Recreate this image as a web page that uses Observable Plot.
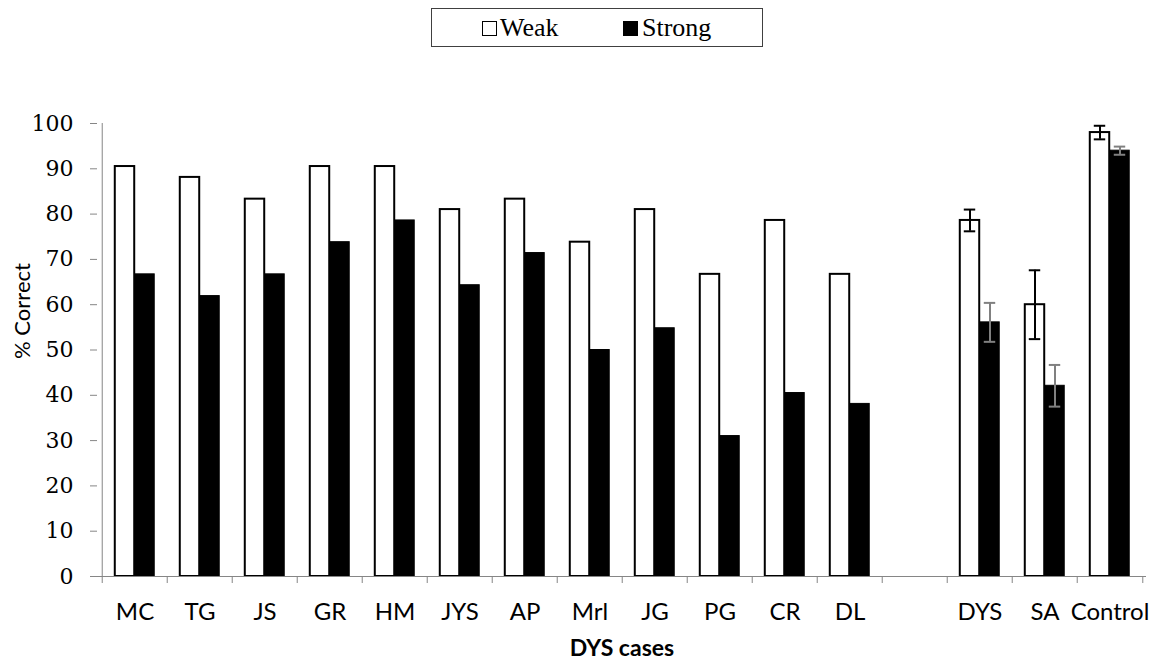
<!DOCTYPE html>
<html>
<head>
<meta charset="utf-8">
<script src="https://cdn.jsdelivr.net/npm/d3@7"></script>
<script src="https://cdn.jsdelivr.net/npm/@observablehq/plot@0.6"></script>
<style>
  body { margin: 0; background: #fff; }
  #legend { position: relative; height: 60px; font-family: "Liberation Serif", serif; font-size: 26px; color: #000; }
  #legend .box { position: absolute; left: 431px; top: 8px; width: 330px; height: 37px; border: 1px solid #404040; }
  #legend .sw { position: absolute; top: 21px; width: 15px; height: 15px; box-sizing: border-box; border: 1.5px solid #000; }
  #legend .lab { position: absolute; top: 15px; line-height: 26px; white-space: nowrap; }
  #chart svg { display: block; }
</style>
</head>
<body>
<div id="legend">
  <div class="box"></div>
  <span class="sw" style="left:482px;background:#fff"></span><span class="lab" style="left:500px">Weak</span>
  <span class="sw" style="left:623px;background:#000"></span><span class="lab" style="left:642px">Strong</span>
</div>
<div id="chart"></div>
<script>
// Percentage correct per case; the blank entry separates individual cases from group means.
const cases  = ["MC", "TG", "JS", "GR", "HM", "JYS", "AP", "Mrl", "JG", "PG", "CR", "DL", " ", "DYS", "SA", "Control"];
const weak   = [90.5, 88.1, 83.3, 90.5, 90.5, 81.0, 83.3, 73.8, 81.0, 66.7, 78.6, 66.7, null, 78.6, 60.0, 98.0];
const strong = [66.7, 61.9, 66.7, 73.8, 78.6, 64.3, 71.4, 50.0, 54.8, 31.0, 40.5, 38.1, null, 56.1, 42.1, 94.0];
// Error bars (± value) for the group means only
const weakErr   = [null, null, null, null, null, null, null, null, null, null, null, null, null, 2.4, 7.6, 1.5];
const strongErr = [null, null, null, null, null, null, null, null, null, null, null, null, null, 4.3, 4.6, 0.9];
const yTicks = [0, 10, 20, 30, 40, 50, 60, 70, 80, 90, 100];

const W = 1162, H = 604;
const mL = 97, mR = 16, mT = 63, mB = 88;
const step = (W - mL - mR) / cases.length;   // width of one category band
const barW = 20;                              // width of a single bar
const outer = (step - 2 * barW) / 2;          // gap between band edge and bar pair
const capW = 12;                              // error-bar cap width

const rows = (vals, errs) => cases.map((c, i) => ({c, v: vals[i], e: errs[i]})).filter(d => d.v != null);
const weakRows = rows(weak, weakErr);
const strongRows = rows(strong, strongErr);
const weakErrRows = weakRows.filter(d => d.e != null);
const strongErrRows = strongRows.filter(d => d.e != null);

const axisGrey = "#868686";
const capInsets = (shift) => ({
  insetLeft: step / 2 + shift - capW / 2,
  insetRight: step / 2 - shift - capW / 2
});

const chart = Plot.plot({
  width: W, height: H,
  marginLeft: mL, marginRight: mR, marginTop: mT, marginBottom: mB,
  x: {domain: cases, padding: 0, axis: null},
  y: {domain: [0, 100], axis: null},
  marks: [
    // bars
    Plot.barY(weakRows, {x: "c", y: "v", fill: "#fff", stroke: "#000", strokeWidth: 2,
      insetLeft: outer, insetRight: outer + barW}),
    Plot.barY(strongRows, {x: "c", y: "v", fill: "#000", stroke: "#000", strokeWidth: 1,
      insetLeft: outer + barW, insetRight: outer}),
    // error bars
    Plot.ruleX(weakErrRows, {x: "c", y1: d => d.v - d.e, y2: d => d.v + d.e, dx: -barW / 2, stroke: "#000", strokeWidth: 2}),
    Plot.tickY(weakErrRows, {x: "c", y: d => d.v - d.e, ...capInsets(-barW / 2), stroke: "#000", strokeWidth: 2}),
    Plot.tickY(weakErrRows, {x: "c", y: d => d.v + d.e, ...capInsets(-barW / 2), stroke: "#000", strokeWidth: 2}),
    Plot.ruleX(strongErrRows, {x: "c", y1: d => d.v - d.e, y2: d => d.v + d.e, dx: barW / 2, stroke: "#808080", strokeWidth: 2}),
    Plot.tickY(strongErrRows, {x: "c", y: d => d.v - d.e, ...capInsets(barW / 2), stroke: "#808080", strokeWidth: 2}),
    Plot.tickY(strongErrRows, {x: "c", y: d => d.v + d.e, ...capInsets(barW / 2), stroke: "#808080", strokeWidth: 2}),
    // y axis line and ticks
    Plot.ruleX(cases.slice(0, 1), {x: d => d, y1: 0, y2: 100, dx: -step / 2, stroke: axisGrey}),
    Plot.axisY({ticks: yTicks, tickSize: 7, tickPadding: 17, stroke: axisGrey, color: "#000",
      fontFamily: "DejaVu Serif", fontSize: 22, label: null}),
    // x axis line, category boundary ticks and labels
    Plot.ruleY([0], {stroke: axisGrey}),
    Plot.ruleX(cases, {x: d => d, y1: 0, y2: 0, insetBottom: -7, dx: -step / 2, stroke: axisGrey}),
    Plot.ruleX(cases.slice(-1), {x: d => d, y1: 0, y2: 0, insetBottom: -7, dx: step / 2, stroke: axisGrey}),
    Plot.axisX({tickSize: 0, tickPadding: 26, fontFamily: "Lato", fontSize: 24, color: "#000", label: null}),
    // axis titles
    Plot.text(["DYS cases"], {frameAnchor: "bottom", lineAnchor: "bottom", textAnchor: "middle", dy: 79,
      fontFamily: "Lato", fontSize: 23, fontWeight: "bold", fill: "#000"}),
    Plot.text(["% Correct"], {frameAnchor: "left", textAnchor: "middle", lineAnchor: "middle", rotate: -90, dx: -75, dy: -39,
      fontFamily: "Lato", fontSize: 22, fill: "#000"})
  ]
});
document.getElementById("chart").appendChild(chart);
</script>
</body>
</html>
